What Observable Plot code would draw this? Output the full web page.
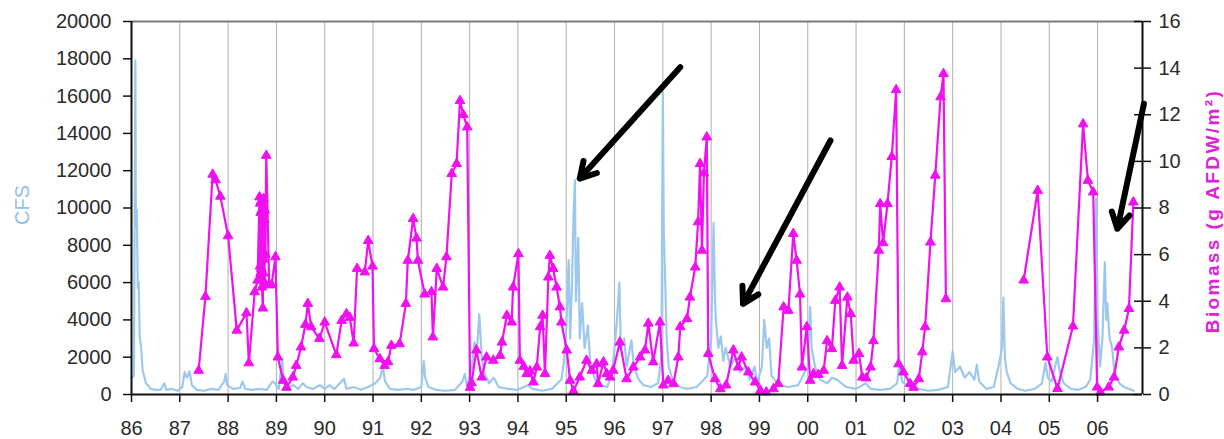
<!DOCTYPE html>
<html>
<head>
<meta charset="utf-8">
<script src="https://cdn.jsdelivr.net/npm/d3@7"></script>
<script src="https://cdn.jsdelivr.net/npm/@observablehq/plot@0.6"></script>
<style>
  html, body { margin: 0; padding: 0; background: #fff; }
  #chart { width: 1224px; height: 439px; }
</style>
</head>
<body>
<div id="chart"></div>
<script>
// ---- Axis ticks ----
const tickYears = [1986,1987,1988,1989,1990,1991,1992,1993,1994,1995,1996,1997,1998,1999,2000,2001,2002,2003,2004,2005,2006];
const gridYears = [1987,1988,1989,1990,1991,1992,1993,1994,1995,1996,1997,1998,1999,2000,2001,2002,2003,2004,2005,2006];
const cfsTicks = [0,2000,4000,6000,8000,10000,12000,14000,16000,18000,20000];
const biomassTicks = [0,2,4,6,8,10,12,14,16];
const xDomain = [1986, 2006.93];

// ---- Flow (CFS) ----
const flowYear = [
1986.00,1986.05,1986.08,1986.09,1986.11,1986.13,1986.15,1986.17,1986.20,1986.23,1986.30,1986.40,1986.50,1986.60,1986.68,1986.72,1986.85,1986.95,
1987.05,1987.10,1987.15,1987.20,1987.25,1987.35,1987.50,1987.65,1987.80,1987.92,1987.95,1987.98,
1988.10,1988.25,1988.30,1988.35,1988.50,1988.65,1988.80,1988.92,1988.97,
1989.05,1989.12,1989.15,1989.25,1989.35,1989.45,1989.55,1989.62,1989.75,1989.90,
1990.00,1990.10,1990.20,1990.40,1990.45,1990.60,1990.75,1990.90,
1991.05,1991.15,1991.20,1991.25,1991.35,1991.50,1991.70,1991.85,
1992.00,1992.05,1992.08,1992.15,1992.30,1992.50,1992.70,1992.85,1992.90,1992.95,
1993.05,1993.10,1993.15,1993.20,1993.25,1993.30,1993.40,1993.50,1993.60,1993.80,
1994.00,1994.20,1994.30,1994.50,1994.70,1994.90,1994.95,
1995.00,1995.05,1995.08,1995.12,1995.15,1995.18,1995.20,1995.25,1995.28,1995.33,1995.38,1995.45,1995.50,1995.60,1995.70,1995.85,1995.95,
1996.00,1996.05,1996.10,1996.13,1996.20,1996.25,1996.35,1996.40,1996.50,1996.60,1996.75,1996.90,1996.97,
1997.00,1997.02,1997.05,1997.08,1997.12,1997.20,1997.35,1997.50,1997.70,1997.85,1997.92,
1998.00,1998.05,1998.08,1998.10,1998.15,1998.20,1998.25,1998.30,1998.40,1998.50,1998.60,1998.70,1998.80,1998.90,1998.95,
1999.05,1999.10,1999.15,1999.20,1999.25,1999.40,1999.60,1999.80,
2000.00,2000.05,2000.08,2000.15,2000.25,2000.40,2000.50,2000.60,2000.80,
2001.00,2001.20,2001.30,2001.50,2001.70,2001.85,2001.90,2001.95,
2002.10,2002.30,2002.50,2002.70,2002.90,
2003.00,2003.05,2003.15,2003.25,2003.35,2003.45,2003.50,2003.55,2003.70,2003.85,2003.95,
2004.02,2004.05,2004.08,2004.12,2004.20,2004.35,2004.50,2004.70,2004.85,2004.92,2004.97,
2005.05,2005.12,2005.17,2005.22,2005.30,2005.45,2005.60,2005.75,2005.85,2005.93,2005.97,
2006.00,2006.05,2006.10,2006.15,2006.18,2006.20,2006.25,2006.30,2006.35,2006.45,2006.55,2006.65,2006.75
];
const flowCfs = [
900,1000,17900,9000,9900,5700,6000,3100,2500,1300,600,300,250,250,600,250,300,200,
400,1200,900,1250,500,250,200,300,250,700,1100,500,
300,350,700,300,250,300,250,700,600,
300,1900,800,400,500,300,600,400,300,500,
300,500,300,850,300,400,250,400,
600,900,1500,700,300,250,300,250,
400,1800,900,400,250,200,250,700,1100,400,
1500,2800,2300,4300,2000,1200,600,900,400,300,
250,500,300,200,300,800,1700,
3500,7200,3000,6000,9500,11500,5000,8400,3000,4900,2500,3700,1500,800,500,400,1200,
2500,4000,6000,2500,3000,1500,2900,1500,800,500,400,600,2000,
16200,8600,6000,3000,1500,800,400,300,400,800,1000,
3000,9200,5000,3900,2500,3100,1800,2500,1500,2000,1200,1500,800,1500,600,
1500,4000,2500,3000,1000,500,400,500,
1500,4700,2500,1500,800,600,900,800,400,
300,600,300,250,300,600,1700,700,
400,300,200,250,400,
2300,1200,1500,900,1200,800,1600,700,300,400,1500,
2500,5200,2000,1200,600,300,200,300,600,1700,900,
700,1500,2000,1200,600,300,250,400,800,3000,10500,
4000,1500,3000,7100,4000,4900,3000,2500,1200,600,400,300,200
];

// ---- Biomass (g AFDW/m2); null = gap ----
const bioYear = [
1987.39,1987.53,1987.68,1987.74,1987.84,1988.00,1988.18,1988.38,1988.43,1988.55,1988.61,1988.65,
1988.66,1988.665,1988.67,1988.675,1988.68,1988.685,1988.69,1988.695,1988.70,1988.72,1988.725,1988.73,1988.735,1988.74,1988.75,1988.755,1988.76,1988.77,1988.79,1988.85,1988.90,1988.98,
1989.03,1989.14,1989.21,1989.34,1989.41,1989.51,1989.60,1989.65,1989.72,1989.89,
1990.00,1990.24,1990.35,1990.45,1990.52,1990.60,1990.67,1990.83,1990.90,1990.99,
1991.02,1991.14,1991.24,1991.31,1991.38,1991.55,1991.68,1991.72,1991.83,1991.90,1991.93,
1992.07,1992.21,1992.24,1992.32,1992.45,1992.52,1992.63,1992.73,1992.80,1992.87,1992.95,
1993.01,1993.04,1993.14,1993.25,1993.35,1993.49,1993.63,1993.67,1993.77,1993.87,1993.90,
1994.01,1994.04,1994.12,1994.18,1994.25,1994.32,1994.39,1994.46,1994.51,1994.56,1994.63,1994.66,1994.73,1994.80,1994.87,1994.90,
1995.01,1995.08,1995.15,1995.28,1995.42,1995.53,1995.63,1995.66,1995.77,1995.84,1995.91,1995.97,
1996.11,1996.25,1996.39,1996.53,1996.63,1996.70,1996.80,1996.94,
1997.01,1997.11,1997.22,1997.32,1997.36,1997.50,1997.56,1997.67,1997.73,1997.77,1997.81,1997.85,1997.91,1997.94,
1998.08,1998.19,1998.31,1998.46,1998.56,1998.63,1998.77,1998.91,
1999.02,1999.14,1999.29,1999.39,1999.50,1999.60,1999.70,1999.77,1999.84,1999.88,1999.98,
2000.05,2000.12,2000.22,2000.33,2000.40,2000.50,2000.57,2000.66,2000.71,2000.82,2000.89,2000.95,
2001.06,2001.13,2001.21,2001.30,2001.36,2001.47,2001.50,2001.56,2001.65,2001.74,2001.83,2001.88,2001.98,
2002.12,2002.19,2002.30,2002.37,2002.43,2002.54,2002.64,2002.75,2002.81,2002.86,
2003.60,
2004.47,2004.76,2004.96,
2005.17,2005.49,2005.70,2005.80,2005.91,2005.99,
2006.06,2006.23,2006.34,2006.44,2006.55,2006.65,2006.74
];
const bioValue = [
1.03,4.2,9.44,9.2,8.5,6.8,2.75,3.5,1.35,4.4,4.9,8.47,
5.5,8.2,5.2,7.8,4.9,8.3,5.4,7.9,4.6,3.7,8.0,5.2,8.4,5.8,7.5,4.8,7.9,6.0,10.25,4.7,4.7,5.9,
1.6,0.6,0.3,0.74,1.24,2.03,3.0,3.9,2.9,2.4,
3.1,1.7,3.17,3.46,3.3,2.2,5.4,5.25,6.6,5.5,
1.96,1.53,1.24,1.4,2.1,2.17,3.9,5.75,7.54,6.7,5.75,
4.3,4.4,2.46,5.4,4.6,5.9,9.47,9.9,12.6,12.0,11.47,
0.3,0.5,1.9,0.74,1.6,1.46,1.67,2.24,3.39,3.1,4.6,
6.03,1.46,1.2,0.89,1.0,0.53,1.17,2.9,3.39,0.89,5.03,5.96,5.4,4.6,3.75,3.1,
1.9,0.6,0.15,0.74,1.46,1.03,1.31,0.46,1.39,0.89,0.74,1.03,
2.24,0.67,1.17,1.6,1.9,3.05,1.39,3.1,
0.4,0.6,0.46,1.6,2.9,3.25,4.17,5.46,7.4,9.9,6.18,9.5,11.04,1.75,
0.67,0.24,0.4,1.9,1.17,1.6,0.96,0.53,
0.17,0.1,0.24,0.46,3.75,3.6,6.9,5.75,4.3,1.17,2.9,
0.6,0.89,0.85,1.03,2.3,1.96,4.03,4.6,1.24,4.17,3.46,1.46,
1.75,0.74,0.7,1.17,2.3,6.18,8.18,6.5,8.18,10.2,13.07,1.31,0.96,
0.46,0.3,0.67,1.82,2.9,6.53,9.4,12.76,13.76,4.1,
null,
4.9,8.75,1.6,
0.25,2.93,11.6,9.18,8.68,0.31,
0.1,0.31,0.74,2.03,2.75,3.68,8.25
];

// ---- Arrows (annotation, in data units: year, CFS) ----
const arrowX1 = [1997.36, 2000.47, 2006.96];
const arrowY1 = [17550, 13620, 15590];
const arrowX2 = [1995.28, 1998.66, 2006.41];
const arrowY2 = [11580, 4860, 8885];

// biomass shares the CFS scale: 16 g/m2 <-> 20000 CFS
const k = 20000 / 16;

const flow = flowYear.map((x, i) => ({x, y: flowCfs[i]}));
const bio = bioYear.map((x, i) => ({x, v: bioValue[i]}));
const arrows = arrowX1.map((x1, i) => ({x1, y1: arrowY1[i], x2: arrowX2[i], y2: arrowY2[i]}));

const blue = "#9dc8ee";
const magenta = "#f010f0";

const chart = Plot.plot({
  width: 1224,
  height: 439,
  marginLeft: 131,
  marginRight: 82,
  marginTop: 21,
  marginBottom: 45,
  x: {domain: xDomain},
  y: {domain: [0, 20000]},
  style: {fontFamily: "'Liberation Sans', Arial, sans-serif", fontSize: "20px", color: "#2a2a2a", background: "#fff", overflow: "visible"},
  marks: [
    Plot.ruleX(gridYears, {stroke: "#b0b0b0", strokeWidth: 1}),
    Plot.ruleY([20000], {stroke: "#7a7a7a", strokeWidth: 2}),
    Plot.line(flow, {x: "x", y: "y", stroke: blue, strokeWidth: 2.2}),
    Plot.line(bio, {x: "x", y: d => d.v == null ? NaN : d.v * k, stroke: magenta, strokeWidth: 2.2}),
    Plot.dot(bio.filter(d => d.v != null), {x: "x", y: d => d.v * k, symbol: "triangle", r: 3.6, fill: magenta, stroke: magenta, strokeWidth: 1}),
    Plot.ruleY([0], {stroke: "#111", strokeWidth: 2}),
    Plot.ruleX([xDomain[0]], {stroke: "#111", strokeWidth: 2}),
    Plot.ruleX([xDomain[1]], {stroke: "#111", strokeWidth: 2}),
    Plot.gridY(biomassTicks.map(b => b * k), {stroke: "#111", strokeOpacity: 1, strokeWidth: 1.5, insetLeft: 1003}),
    Plot.axisX({ticks: tickYears, tickFormat: d => String(d % 100).padStart(2, "0"), tickSize: 8, tickPadding: 18, label: null, stroke: "#111", strokeWidth: 1.5}),
    Plot.axisY({anchor: "left", ticks: cfsTicks, tickFormat: d => String(d), tickSize: 8, tickPadding: 12, label: null, stroke: "#111", strokeWidth: 1.5}),
    Plot.axisY({anchor: "right", ticks: biomassTicks.map(b => b * k), tickFormat: d => String(Math.round(d / k)), tickSize: 8, tickPadding: 8, label: null, stroke: "#111", strokeWidth: 1.5}),
    Plot.arrow(arrows, {x1: "x1", y1: "y1", x2: "x2", y2: "y2", stroke: "#000", strokeWidth: 6, headLength: 4.5, headAngle: 60}),
    Plot.text(["CFS"], {frameAnchor: "left", textAnchor: "middle", rotate: -90, dx: -109, dy: -3, fill: "#93c0e8", fontSize: 20}),
    Plot.text(["Biomass (g AFDW/m²)"], {frameAnchor: "right", textAnchor: "middle", rotate: -90, dx: 70, dy: 3, fill: "#e020d8", fontSize: 19, fontWeight: "bold"})
  ]
});
d3.select(chart).selectAll("text").filter(function () { return this.textContent.startsWith("Biomass"); })
  .attr("letter-spacing", "2.4px");
document.getElementById("chart").appendChild(chart);
</script>
</body>
</html>
